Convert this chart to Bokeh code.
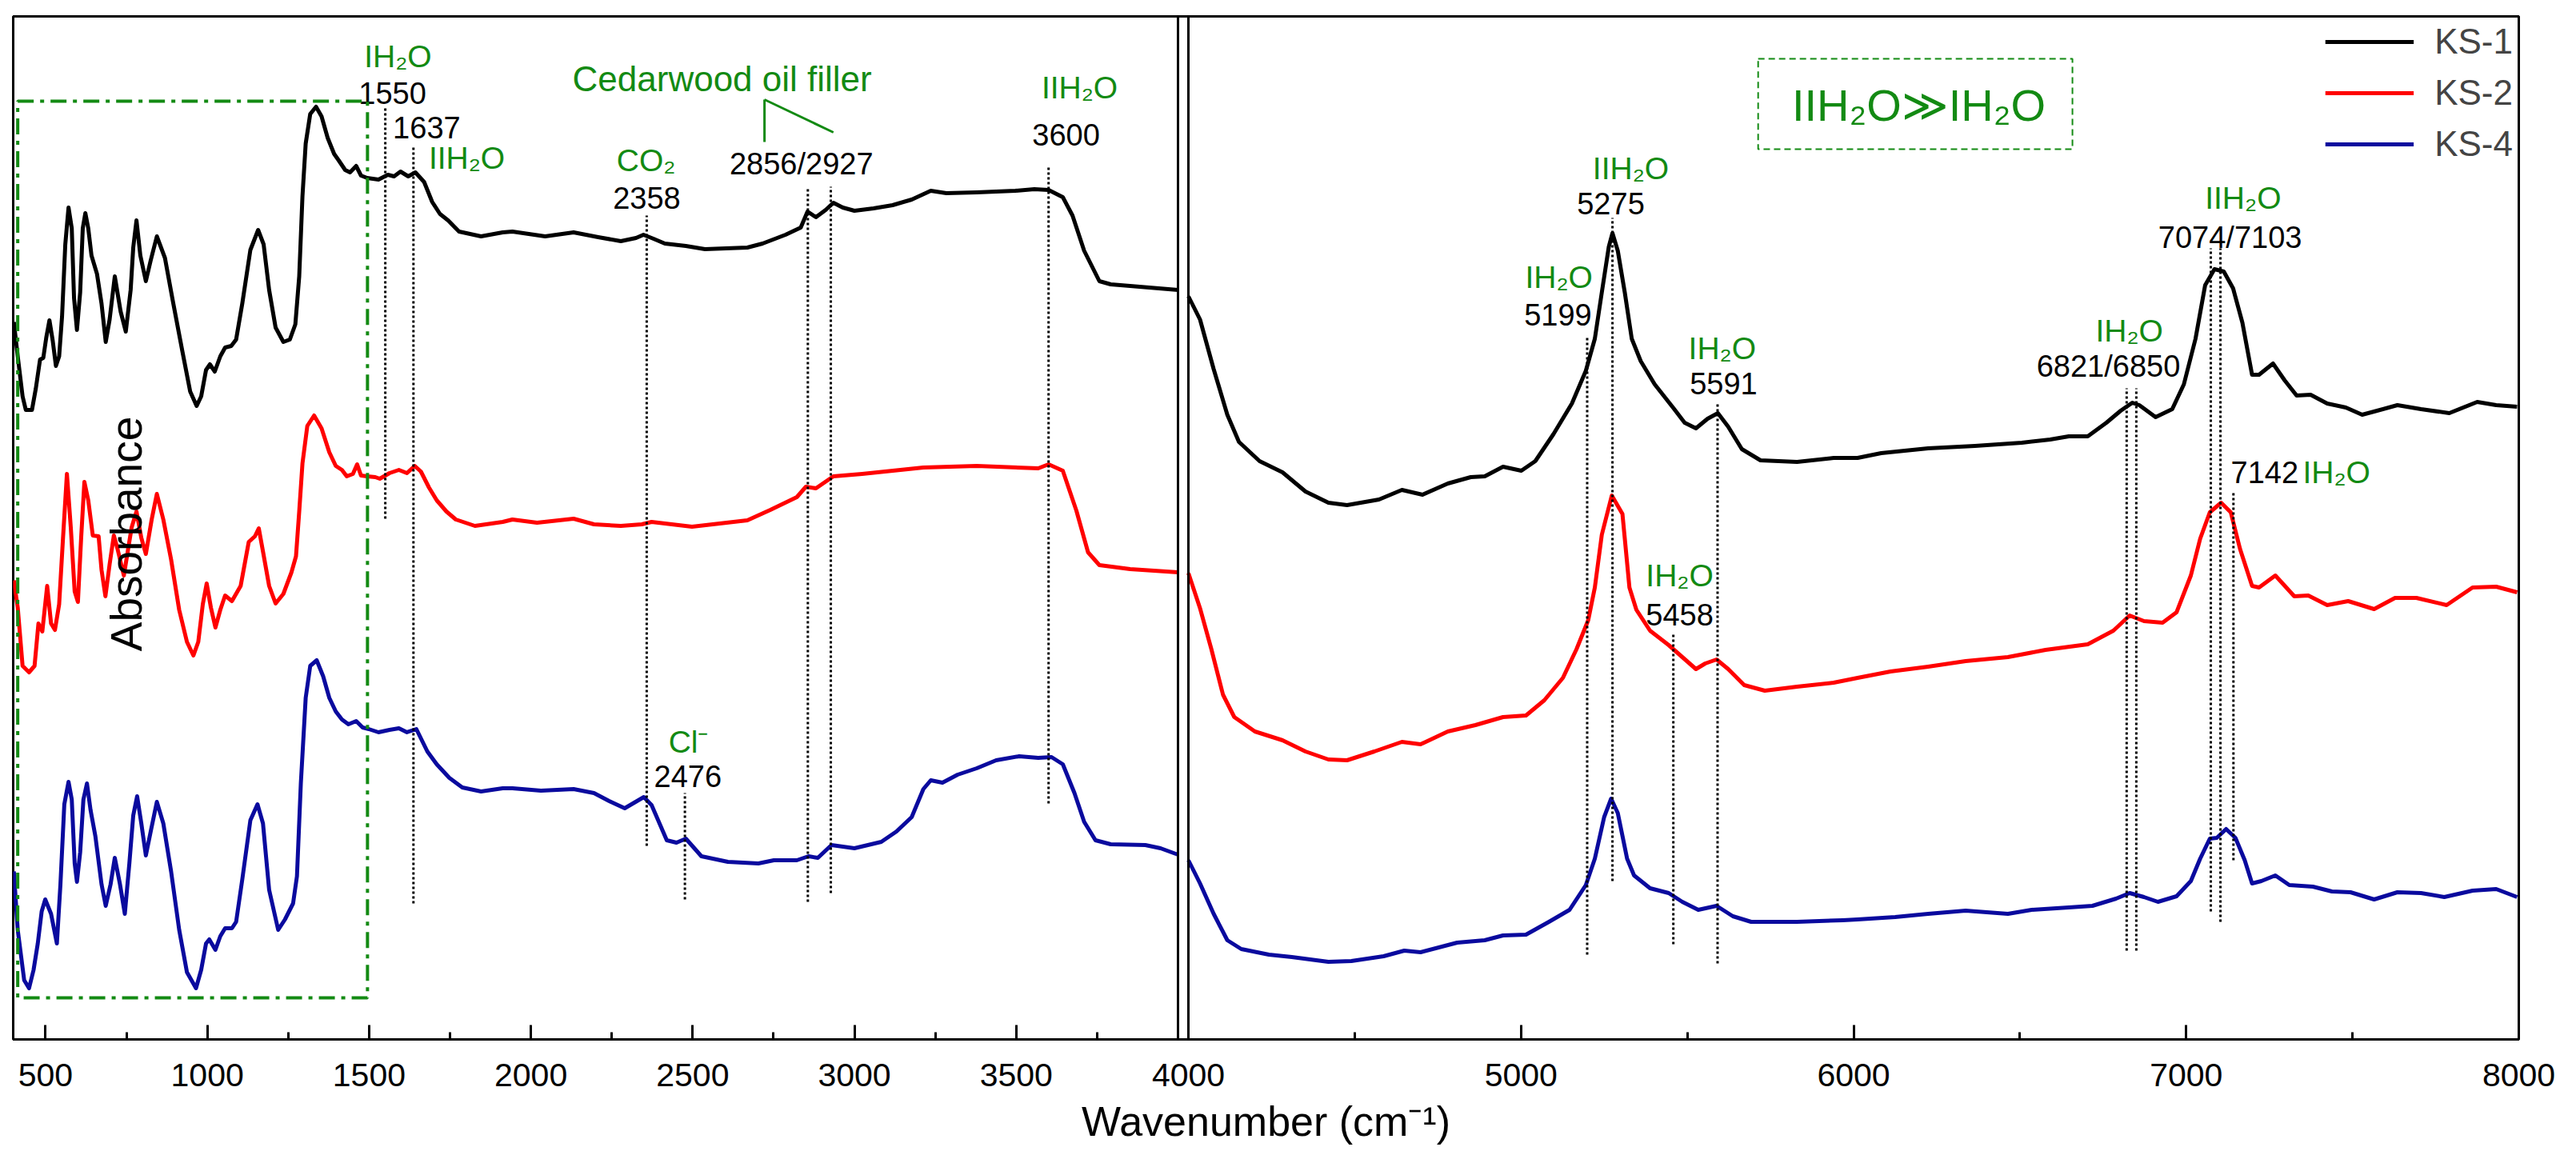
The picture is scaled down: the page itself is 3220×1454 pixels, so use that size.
from math import pi
from bokeh.plotting import figure
from bokeh.models import (Range1d, FixedTicker, CustomJSTickFormatter, Span, BoxAnnotation,
                          Label, ColumnDataSource)
from bokeh.core.properties import value
from bokeh.embed import file_html
from bokeh.resources import INLINE

FONT = "Liberation Sans"
GREEN = "#138A13"
BLUE = "#0A0A9E"

# ---------------- data (wavenumber cm-1, absorbance a.u.) ----------------
KS1_MIR = [(402,.897),(414,.854),(429,.804),(439,.787),(458,.787),(470,.814),(483,.850),(493,.852),(502,.877),(512,.899),(522,.874),(532,.842),(542,.854),(551,.904),(561,.994),(571,1.040),(581,1.014),(588,.927),(597,.887),(607,.934),(615,1.014),(623,1.033),(632,1.014),(642,.980),(659,.957),(673,.920),(686,.872),(698,.900),(714,.954),(732,.910),(748,.885),(763,.937),(771,.990),(781,1.024),(793,.980),(810,.948),(825,.974),(844,1.004),(869,.977),(893,.924),(923,.860),(947,.810),(967,.792),(981,.804),(996,.837),(1008,.844),(1023,.835),(1040,.854),(1055,.865),(1074,.867),(1089,.875),(1108,.920),(1133,.987),(1157,1.012),(1174,.994),(1191,.937),(1211,.890),(1235,.872),(1255,.875),(1272,.894),(1284,.954),(1294,1.054),(1304,1.120),(1318,1.157),(1336,1.166),(1353,1.154),(1372,1.127),(1392,1.107),(1406,1.099),(1426,1.087),(1441,1.084),(1460,1.092),(1475,1.080),(1494,1.077),(1529,1.075),(1558,1.081),(1577,1.079),(1597,1.085),(1621,1.079),(1643,1.084),(1670,1.072),(1695,1.047),(1719,1.032),(1744,1.024),(1778,1.010),(1846,1.004),(1913,1.009),(1943,1.010),(2044,1.004),(2132,1.009),(2208,1.003),(2278,.998),(2325,1.002),(2348,1.006),(2379,1.001),(2414,.995),(2479,.992),(2538,.988),(2669,.990),(2716,.995),(2787,1.006),(2834,1.015),(2855,1.035),(2881,1.028),(2911,1.037),(2935,1.046),(2964,1.040),(3000,1.036),(3059,1.039),(3118,1.043),(3177,1.050),(3236,1.061),(3284,1.058),(3378,1.059),(3497,1.061),(3556,1.063),(3600,1.062),(3644,1.053),(3674,1.030),(3710,.986),(3757,.948),(3792,.944),(3852,.942),(3911,.940),(4000,.937)]

KS2_MIR = [(402,.574),(414,.540),(429,.467),(449,.459),(466,.467),(478,.520),(490,.510),(505,.567),(517,.520),(529,.512),(542,.544),(554,.627),(566,.707),(578,.640),(590,.560),(600,.547),(610,.627),(620,.697),(632,.674),(646,.630),(664,.629),(673,.587),(685,.554),(698,.594),(711,.630),(722,.614),(742,.580),(766,.640),(781,.660),(796,.627),(810,.607),(828,.650),(844,.682),(864,.650),(888,.600),(913,.537),(937,.497),(957,.480),(972,.497),(986,.544),(998,.570),(1011,.540),(1025,.515),(1040,.537),(1055,.555),(1076,.548),(1103,.567),(1128,.622),(1147,.629),(1159,.639),(1172,.610),(1191,.567),(1211,.545),(1235,.557),(1260,.584),(1274,.604),(1284,.660),(1294,.720),(1309,.767),(1330,.780),(1353,.764),(1377,.734),(1397,.717),(1416,.712),(1431,.704),(1450,.707),(1463,.719),(1475,.705),(1494,.704),(1519,.703),(1533,.701),(1563,.708),(1592,.712),(1617,.708),(1641,.717),(1660,.710),(1685,.690),(1709,.674),(1739,.660),(1768,.650),(1827,.642),(1913,.647),(1943,.650),(2019,.646),(2132,.651),(2195,.644),(2278,.642),(2343,.644),(2373,.647),(2498,.641),(2669,.649),(2740,.662),(2822,.678),(2850,.691),(2881,.689),(2935,.704),(3024,.707),(3213,.715),(3378,.717),(3568,.714),(3600,.719),(3644,.711),(3686,.661),(3722,.609),(3757,.593),(3852,.588),(4000,.584)]

KS4_MIR = [(402,.210),(414,.137),(434,.074),(449,.064),(463,.087),(476,.120),(488,.160),(499,.175),(517,.157),(535,.120),(546,.194),(558,.294),(571,.322),(581,.300),(590,.220),(597,.197),(607,.234),(617,.300),(628,.320),(639,.287),(654,.254),(673,.194),(686,.167),(701,.194),(714,.227),(730,.194),(745,.157),(759,.220),(771,.280),(783,.304),(796,.270),(810,.230),(825,.260),(844,.297),(864,.270),(888,.210),(913,.137),(937,.084),(965,.064),(981,.087),(996,.120),(1006,.125),(1025,.112),(1040,.129),(1055,.139),(1076,.139),(1089,.147),(1108,.200),(1133,.274),(1155,.294),(1172,.270),(1191,.187),(1219,.137),(1240,.150),(1265,.170),(1277,.204),(1289,.320),(1304,.427),(1318,.467),(1338,.474),(1358,.454),(1377,.427),(1397,.410),(1416,.400),(1436,.394),(1460,.398),(1480,.390),(1499,.388),(1529,.384),(1563,.387),(1592,.389),(1617,.384),(1646,.388),(1680,.360),(1709,.344),(1748,.327),(1788,.315),(1846,.310),(1913,.314),(1943,.314),(2031,.311),(2132,.313),(2195,.308),(2242,.298),(2290,.289),(2349,.303),(2373,.293),(2420,.249),(2450,.246),(2479,.251),(2527,.229),(2609,.222),(2703,.220),(2751,.224),(2822,.224),(2858,.229),(2887,.227),(2929,.243),(3000,.239),(3083,.247),(3130,.260),(3177,.278),(3213,.313),(3236,.324),(3272,.321),(3319,.331),(3378,.339),(3438,.349),(3509,.354),(3568,.352),(3609,.353),(3644,.344),(3680,.308),(3710,.272),(3745,.249),(3792,.244),(3899,.243),(3946,.239),(4000,.231)]

KS1_NIR = [(4000,.929),(4035,.900),(4076,.838),(4117,.781),(4152,.747),(4214,.723),(4283,.709),(4352,.685),(4421,.671),(4477,.668),(4573,.675),(4642,.687),(4704,.681),(4780,.695),(4849,.703),(4891,.704),(4946,.716),(5001,.711),(5043,.723),(5098,.757),(5153,.795),(5195,.836),(5222,.876),(5243,.934),(5264,.991),(5275,1.008),(5291,.986),(5312,.934),(5333,.876),(5360,.848),(5402,.819),(5457,.790),(5492,.771),(5526,.764),(5561,.776),(5592,.783),(5623,.766),(5664,.738),(5720,.724),(5830,.722),(5940,.727),(6012,.727),(6083,.733),(6224,.739),(6365,.742),(6506,.746),(6591,.750),(6647,.754),(6704,.754),(6760,.771),(6803,.786),(6838,.796),(6859,.793),(6908,.778),(6958,.788),(6993,.819),(7028,.876),(7057,.943),(7085,.963),(7113,.960),(7141,.939),(7169,.896),(7198,.831),(7219,.831),(7261,.845),(7296,.824),(7332,.805),(7374,.806),(7424,.795),(7480,.790),(7529,.781),(7565,.785),(7635,.793),(7706,.788),(7791,.783),(7875,.797),(7932,.793),(7995,.791)]

KS2_NIR = [(4000,.583),(4035,.539),(4069,.488),(4104,.431),(4138,.403),(4200,.385),(4283,.374),(4352,.360),(4421,.350),(4477,.349),(4559,.360),(4642,.372),(4698,.369),(4780,.385),(4863,.393),(4946,.403),(5015,.405),(5070,.424),(5126,.452),(5167,.488),(5202,.524),(5222,.565),(5243,.631),(5273,.680),(5305,.657),(5326,.565),(5347,.537),(5388,.511),(5444,.493),(5485,.478),(5526,.463),(5554,.470),(5588,.475),(5623,.463),(5671,.443),(5733,.436),(5830,.441),(5940,.446),(6012,.452),(6111,.460),(6224,.466),(6337,.473),(6464,.478),(6577,.487),(6704,.494),(6781,.511),(6830,.530),(6873,.523),(6929,.521),(6971,.534),(7014,.580),(7042,.626),(7071,.659),(7105,.671),(7134,.659),(7162,.613),(7198,.567),(7219,.565),(7268,.580),(7325,.554),(7367,.555),(7424,.543),(7487,.548),(7565,.538),(7628,.552),(7692,.552),(7783,.543),(7861,.565),(7932,.566),(7995,.559)]

KS4_NIR = [(4000,.224),(4035,.195),(4076,.157),(4117,.124),(4159,.113),(4242,.106),(4311,.103),(4421,.097),(4490,.098),(4587,.104),(4649,.111),(4698,.109),(4808,.121),(4891,.124),(4946,.130),(5015,.131),(5084,.147),(5146,.162),(5195,.193),(5222,.226),(5250,.278),(5271,.301),(5291,.283),(5319,.226),(5340,.205),(5388,.189),(5444,.183),(5485,.172),(5533,.162),(5588,.167),(5637,.154),(5692,.147),(5830,.147),(5968,.149),(6012,.150),(6125,.153),(6224,.157),(6337,.161),(6464,.157),(6535,.162),(6647,.165),(6718,.167),(6789,.176),(6830,.183),(6873,.178),(6915,.172),(6971,.179),(7014,.198),(7042,.226),(7071,.251),(7092,.252),(7120,.263),(7148,.252),(7176,.224),(7198,.195),(7226,.198),(7268,.205),(7310,.193),(7381,.191),(7438,.185),(7494,.184),(7565,.175),(7635,.184),(7706,.183),(7776,.178),(7861,.186),(7932,.188),(7995,.178)]

SERIES = ["KS-1", "KS-2", "KS-4"]
COLORS = ["#000000", "#FF0000", BLUE]

# marked bands: (wavenumber, lower end, upper end of the dotted marker)
MARK_MIR = [(1550, .651, 1.164), (1637, .170, 1.115), (2358, .242, 1.030), (2476, .175, .308),
            (2856, .172, 1.064), (2927, .183, 1.066), (3600, .295, 1.090)]
MARK_NIR = [(5199, .106, .879), (5275, .198, 1.027), (5458, .119, .508), (5591, .095, .797),
            (6821, .111, .814), (6850, .111, .814), (7074, .160, .989), (7103, .147, .989),
            (7142, .224, .683)]

# annotation texts (text, x, y)
GREEN_MIR = [("IH\u2082O", 1589, 1.229), ("IIH\u2082O", 1802, 1.102), ("CO\u2082", 2356, 1.099),
             ("IIH\u2082O", 3696, 1.190), ("Cl\u207B", 2487, 0.372)]
BLACK_MIR = [("1550", 1572, 1.183), ("1637", 1678, 1.140), ("2358", 2358, 1.052),
             ("2856/2927", 2836, 1.095), ("3600", 3654, 1.131), ("2476", 2485, 0.329)]
GREEN_NIR = [("IIH\u2082O", 5330, 1.089), ("IH\u2082O", 5114, 0.953), ("IH\u2082O", 5605, 0.864),
             ("IH\u2082O", 5477, 0.580), ("IH\u2082O", 6829, 0.886), ("IIH\u2082O", 7171, 1.052),
             ("IH\u2082O", 7452, 0.709)]
BLACK_NIR = [("5275", 5270, 1.045), ("5199", 5111, 0.906), ("5591", 5609, 0.820), ("5458", 5477, 0.531),
             ("6821/6850", 6766, 0.842), ("7074/7103", 7132, 1.003), ("7142", 7236, 0.709)]

MIR_MAJOR = [500, 1000, 1500, 2000, 2500, 3000, 3500]
MIR_MINOR = [750, 1250, 1750, 2250, 2750, 3250, 3750]
NIR_MAJOR = [4000, 5000, 6000, 7000, 8000]
NIR_MINOR = [4500, 5500, 6500, 7500]

# ---------------- layout ----------------
FW, LW, RW = 3132, 1456, 1663          # frame width, mid-IR panel, near-IR panel (px)
L0 = 400.0
L1 = L0 + 3600.0 * FW / LW
R1 = 8000.0
R0 = R1 - 4000.0 * FW / RW


def to_main(v):
    return L0 + (v - R0) * (L1 - L0) / (R1 - R0)


p = figure(frame_width=FW, frame_height=1279, x_range=Range1d(L0, L1), y_range=Range1d(0, 1.279),
           output_backend="svg", toolbar_location=None, y_axis_location=None,
           min_border_left=16, min_border_right=48, min_border_top=20, min_border_bottom=136,
           background_fill_color="white", border_fill_color="white")
p.extra_x_ranges = {"nir": Range1d(R0, R1)}
p.grid.visible = False
p.outline_line_color = "black"
p.outline_line_width = 3

ax = p.xaxis[0]
ax.ticker = FixedTicker(ticks=MIR_MAJOR + [to_main(v) for v in NIR_MAJOR],
                        minor_ticks=MIR_MINOR + [to_main(v) for v in NIR_MINOR])
ax.formatter = CustomJSTickFormatter(args=dict(l0=L0, l1=L1, r0=R0, r1=R1), code="""
    if (tick < 4016) { return tick.toFixed(0); }
    return Math.round(r0 + (tick - l0) * (r1 - r0) / (l1 - l0)).toString();
""")
ax.major_tick_in = 18
ax.major_tick_out = 0
ax.minor_tick_in = 9
ax.minor_tick_out = 0
ax.axis_line_width = 3
ax.major_tick_line_width = 3
ax.minor_tick_line_width = 3
ax.major_label_text_font = FONT
ax.major_label_text_font_size = "41px"
ax.major_label_text_color = "black"
ax.major_label_standoff = 30
ax.axis_label = "Wavenumber (cm\u207B\u00B9)"
ax.axis_label_text_font = FONT
ax.axis_label_text_font_size = "52px"
ax.axis_label_text_font_style = "normal"
ax.axis_label_text_color = "black"
ax.axis_label_standoff = 12

# panel borders between the two ranges
p.add_layout(Span(location=4000, dimension="height", line_color="black", line_width=3))
p.add_layout(Span(location=4000, dimension="height", line_color="black", line_width=3,
                  x_range_name="nir"))

# spectra
for name, col, mir, nir in zip(SERIES, COLORS, [KS1_MIR, KS2_MIR, KS4_MIR], [KS1_NIR, KS2_NIR, KS4_NIR]):
    p.line([a for a, b in mir], [b for a, b in mir], line_color=col, line_width=5, legend_label=name,
           line_join="round")
    p.line([a for a, b in nir], [b for a, b in nir], line_color=col, line_width=5, x_range_name="nir",
           line_join="round")

# dotted markers
p.segment(x0=[m[0] for m in MARK_MIR], y0=[m[1] for m in MARK_MIR],
          x1=[m[0] for m in MARK_MIR], y1=[m[2] for m in MARK_MIR],
          line_color="black", line_width=3, line_dash="3 3")
p.segment(x0=[m[0] for m in MARK_NIR], y0=[m[1] for m in MARK_NIR],
          x1=[m[0] for m in MARK_NIR], y1=[m[2] for m in MARK_NIR],
          line_color="black", line_width=3, line_dash="3 3", x_range_name="nir")

# boxes
p.add_layout(BoxAnnotation(left=414, right=1495, bottom=0.052, top=1.173, fill_color=None,
                           fill_alpha=0, line_color=GREEN, line_width=4, line_dash="20 8 5 8", line_alpha=1))
p.add_layout(BoxAnnotation(left=5713, right=6658, bottom=1.113, top=1.226, fill_color=None,
                           fill_alpha=0, line_color=GREEN, line_width=2, line_dash="8 5", line_alpha=1,
                           x_range_name="nir"))

# cedarwood bracket
p.multi_line(xs=[[2722, 2722], [2722, 2935]], ys=[[1.122, 1.175], [1.175, 1.134]],
             line_color=GREEN, line_width=3)


def add_texts(items, color, size, rng=None):
    src = ColumnDataSource(dict(x=[i[1] for i in items], y=[i[2] for i in items], t=[i[0] for i in items]))
    kw = dict(x_range_name=rng) if rng else {}
    p.text(x="x", y="y", text="t", source=src, text_font=value(FONT), text_font_size=size,
           text_color=color, text_align="center", text_baseline="middle", **kw)


add_texts(GREEN_MIR, GREEN, "39px")
add_texts(BLACK_MIR, "black", "38px")
add_texts([("Cedarwood oil filler", 2591, 1.201)], GREEN, "44px")
add_texts(GREEN_NIR, GREEN, "39px", "nir")
add_texts(BLACK_NIR, "black", "38px", "nir")
add_texts([("IIH\u2082O\u226BIH\u2082O", 6196, 1.168)], GREEN, "56px", "nir")

p.add_layout(Label(x=751, y=0.632, text="Absorbance", angle=pi / 2, text_align="center",
                   text_baseline="middle", text_font=FONT, text_font_size="55px", text_color="black"))

lg = p.legend[0]
lg.location = "top_right"
lg.border_line_alpha = 0
lg.background_fill_alpha = 0
lg.label_text_font = FONT
lg.label_text_font_size = "44px"
lg.glyph_width = 111
lg.glyph_height = 50
lg.label_height = 50
lg.label_standoff = 26
lg.spacing = 14
lg.padding = 7
lg.margin = 0

open("out.html", "w").write(file_html(p, INLINE))
